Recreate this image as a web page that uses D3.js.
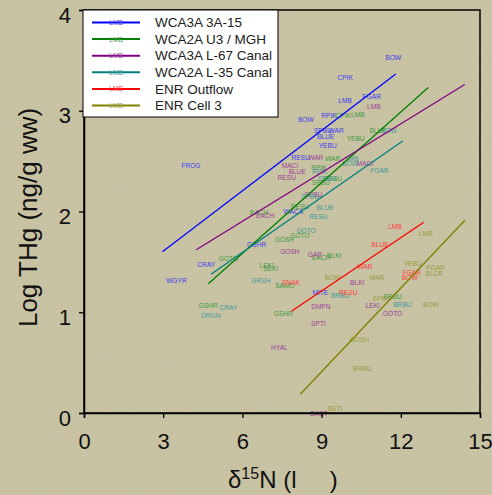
<!DOCTYPE html>
<html>
<head>
<meta charset="UTF-8">
<style>
  body { margin: 0; background: #c9c4a4; }
  svg { display: block; font-family: "Liberation Sans", Arial, sans-serif; }
  .site { font-size: 6.6px; text-anchor: middle; dominant-baseline: central; }
</style>
</head>
<body>
<svg id="chart" width="492" height="495"></svg>
<script src="https://d3js.org/d3.v7.min.js"></script>
<script>
// series names (legend order)
const seriesNames = ["WCA3A 3A-15", "WCA2A U3 / MGH", "WCA3A L-67 Canal", "WCA2A L-35 Canal", "ENR Outflow", "ENR Cell 3"];

// site labels: [name, d15N, log THg]
const wca3a15 = [["BOW",11.72,3.53],["CPIK",9.89,3.33],["LMB",9.89,3.10],["FGAR",10.90,3.14],["RPIK",9.28,2.95],
  ["BOW",8.40,2.91],["SPBU",9.05,2.80],["WAR",9.55,2.80],["BLUE",9.16,2.74],["YEBU",9.23,2.66],["RESU",8.21,2.54],
  ["FROG",4.05,2.46],["WACA",7.93,2.00],["GSHR",6.54,1.67],["CRAY",4.63,1.47],["WGYR",3.50,1.32],["MITE",8.95,1.20]];
const wca2aU3 = [["CPIK",9.82,2.95],["LMB",10.37,2.96],["BLUE",11.14,2.80],["YEBU",10.29,2.72],["WAR",9.42,2.53],
  ["RPIK",8.90,2.44],["SPBU",8.98,2.29],["BRBU",9.43,2.33],["RESU",8.18,2.05],["BACH",6.63,1.99],["GOSH",7.59,1.72],
  ["GOTO",8.18,1.76],["GOTO",5.47,1.53],["LEKI",6.92,1.46],["SEKI",7.07,1.43],["SAMO",7.61,1.27],["GSHR",7.55,0.99],
  ["GSHR",4.71,1.07],["BLKI",9.48,1.56],["EACH",8.98,1.54],["BRBU",11.69,1.16]];
const wca3aL67 = [["LMB",10.98,3.04],["WAR",8.78,2.54],["MACI",7.80,2.46],["BLUE",8.08,2.40],["RESU",7.68,2.34],
  ["MACI",10.64,2.48],["SPBU",8.69,2.17],["EACH",6.86,1.96],["GOSH",7.80,1.60],["GAR",8.75,1.57],["BLKI",10.35,1.30],
  ["DMFN",8.97,1.06],["LEKI",10.94,1.07],["GOTO",11.69,0.99],["SPTI",8.88,0.89],["HYAL",7.40,0.65],["GAST",8.88,0.00]];
const wca2aL35 = [["BOW",11.55,2.80],["LMB",10.15,2.53],["BOW",10.08,2.48],["RPIK",8.94,2.40],["SPBU",9.20,2.33],
  ["FGAR",11.19,2.41],["SPBU",8.56,2.15],["BLUE",9.13,2.04],["RESU",8.88,1.95],["GOTO",8.41,1.81],["GRSH",6.70,1.32],
  ["CRAY",5.47,1.05],["DRGN",4.80,0.97],["BRBU",9.70,1.17],["BRBU",12.06,1.08]];
const enrOutflow = [["LMB",11.78,1.85],["BLUE",11.21,1.67],["WAR",10.64,1.45],["FGAR",12.41,1.39],["BOW",12.34,1.34],
  ["RESU",10.01,1.20],["SNAK",7.84,1.30]];
const enrCell3 = [["LMB",12.95,1.78],["YEBU",12.45,1.48],["FGAR",13.32,1.44],["BLCR",13.26,1.38],["WAR",11.09,1.34],
  ["BOW",9.42,1.34],["SPBU",11.28,1.14],["BOW",13.14,1.08],["GOSH",10.43,0.73],["BRBU",10.54,0.44],["BETI",9.51,0.04]];

// regression line end points: [[x1, y1], [x2, y2]]
const fitLines = [
  [[2.97,1.60],[11.81,3.365]],
  [[4.71,1.283],[13.04,3.23]],
  [[4.25,1.62],[14.42,3.26]],
  [[4.81,1.377],[12.07,2.70]],
  [[7.87,1.012],[12.87,1.893]],
  [[8.19,0.186],[14.43,1.913]]
];

const xTicks = [0, 3, 6, 9, 12, 15];
const yTicks = [0, 1, 2, 3, 4];

const lineColors = ["#0000ff", "#008000", "#800080", "#008080", "#ff0000", "#808000"];
const labelColors = ["#3c3cf0", "#3f9a3f", "#9a3f9a", "#3f9a9a", "#ff3c3c", "#9a9a3f"];
const labelSets = [wca3a15, wca2aU3, wca3aL67, wca2aL35, enrOutflow, enrCell3];

const svg = d3.select("#chart");
const plotL = 84, plotR = 480, plotT = 10, plotB = 413;

// grainy slide background
const noise = svg.append("defs").append("filter").attr("id", "grain");
noise.append("feTurbulence").attr("type", "fractalNoise").attr("baseFrequency", 0.9).attr("numOctaves", 2).attr("seed", 3);
noise.append("feColorMatrix").attr("values", "0 0 0 0 0.45  0 0 0 0 0.4  0 0 0 0 0.3  0 0 0 0.12 0");
svg.append("rect").attr("width", 492).attr("height", 495).attr("filter", "url(#grain)");

const x = d3.scaleLinear().domain([0, 15]).range([plotL, plotR]);
const y = d3.scaleLinear().domain([0, 4]).range([plotB, plotT]);

// site labels
labelSets.forEach((set, i) => {
  svg.append("g").selectAll("text")
    .data(set)
    .enter()
    .append("text")
    .attr("class", "site")
    .attr("x", d => x(d[1]))
    .attr("y", d => y(d[2]))
    .attr("fill", labelColors[i])
    .text(d => d[0]);
});

// fit lines
const line = d3.line().x(d => x(d[0])).y(d => y(d[1]));
svg.append("g").selectAll("path")
  .data(fitLines)
  .enter()
  .append("path")
  .attr("d", line)
  .attr("fill", "none")
  .attr("stroke", (d, i) => lineColors[i])
  .attr("stroke-width", 1.3);

// frame
svg.append("rect")
  .attr("x", plotL).attr("y", plotT)
  .attr("width", plotR - plotL).attr("height", plotB - plotT)
  .attr("fill", "none").attr("stroke", "#000").attr("stroke-width", 1.5);

// axes
const xAxis = svg.append("g")
  .attr("transform", `translate(0,${plotB})`)
  .call(d3.axisBottom(x).tickValues(xTicks).tickSize(5).tickPadding(15).tickFormat(d3.format("d")));
const yAxis = svg.append("g")
  .attr("transform", `translate(${plotL},0)`)
  .call(d3.axisLeft(y).tickValues(yTicks).tickSize(5).tickPadding(8).tickFormat(d3.format("d")));
[xAxis, yAxis].forEach(a => {
  a.select(".domain").attr("stroke", "#000").attr("stroke-width", 1.5);
  a.selectAll(".tick line").attr("stroke", "#000").attr("stroke-width", 1.3);
  a.selectAll(".tick text").attr("fill", "#111").style("font-size", "22px")
    .style("font-family", "'Liberation Sans', Arial, sans-serif");
});
// y labels sit a little below their ticks in the original
yAxis.selectAll(".tick text").attr("y", 5);

// axis titles
svg.append("text")
  .attr("transform", `translate(37,${(plotT + plotB) / 2 + 6}) rotate(-90)`)
  .attr("text-anchor", "middle")
  .style("font-size", "26px")
  .attr("fill", "#111")
  .text("Log THg (ng/g ww)");

const xt = svg.append("text")
  .attr("x", 228).attr("y", 488)
  .style("font-size", "24px")
  .style("white-space", "pre")
  .attr("fill", "#111");
xt.append("tspan").text("\u03b4");
xt.append("tspan").attr("dy", -9).style("font-size", "16px").text("15");
xt.append("tspan").attr("dy", 9).text("N (l     )");

// legend
const legend = svg.append("g").attr("transform", "translate(83,10)");
legend.append("rect")
  .attr("width", 195).attr("height", 107)
  .attr("fill", "#fff").attr("stroke", "#000").attr("stroke-width", 1);
const rows = legend.selectAll("g.row")
  .data(seriesNames)
  .enter()
  .append("g")
  .attr("class", "row")
  .attr("transform", (d, i) => `translate(0,${12.5 + i * 16.6})`);
rows.append("line")
  .attr("x1", 9).attr("x2", 57)
  .attr("stroke", (d, i) => lineColors[i]).attr("stroke-width", 2);
rows.append("text")
  .attr("class", "site")
  .attr("x", 33)
  .attr("fill", (d, i) => labelColors[i])
  .text("LMB");
rows.append("text")
  .attr("x", 72).attr("dy", "0.35em")
  .style("font-size", "13.5px")
  .attr("fill", "#222")
  .text(d => d);
</script>
</body>
</html>
